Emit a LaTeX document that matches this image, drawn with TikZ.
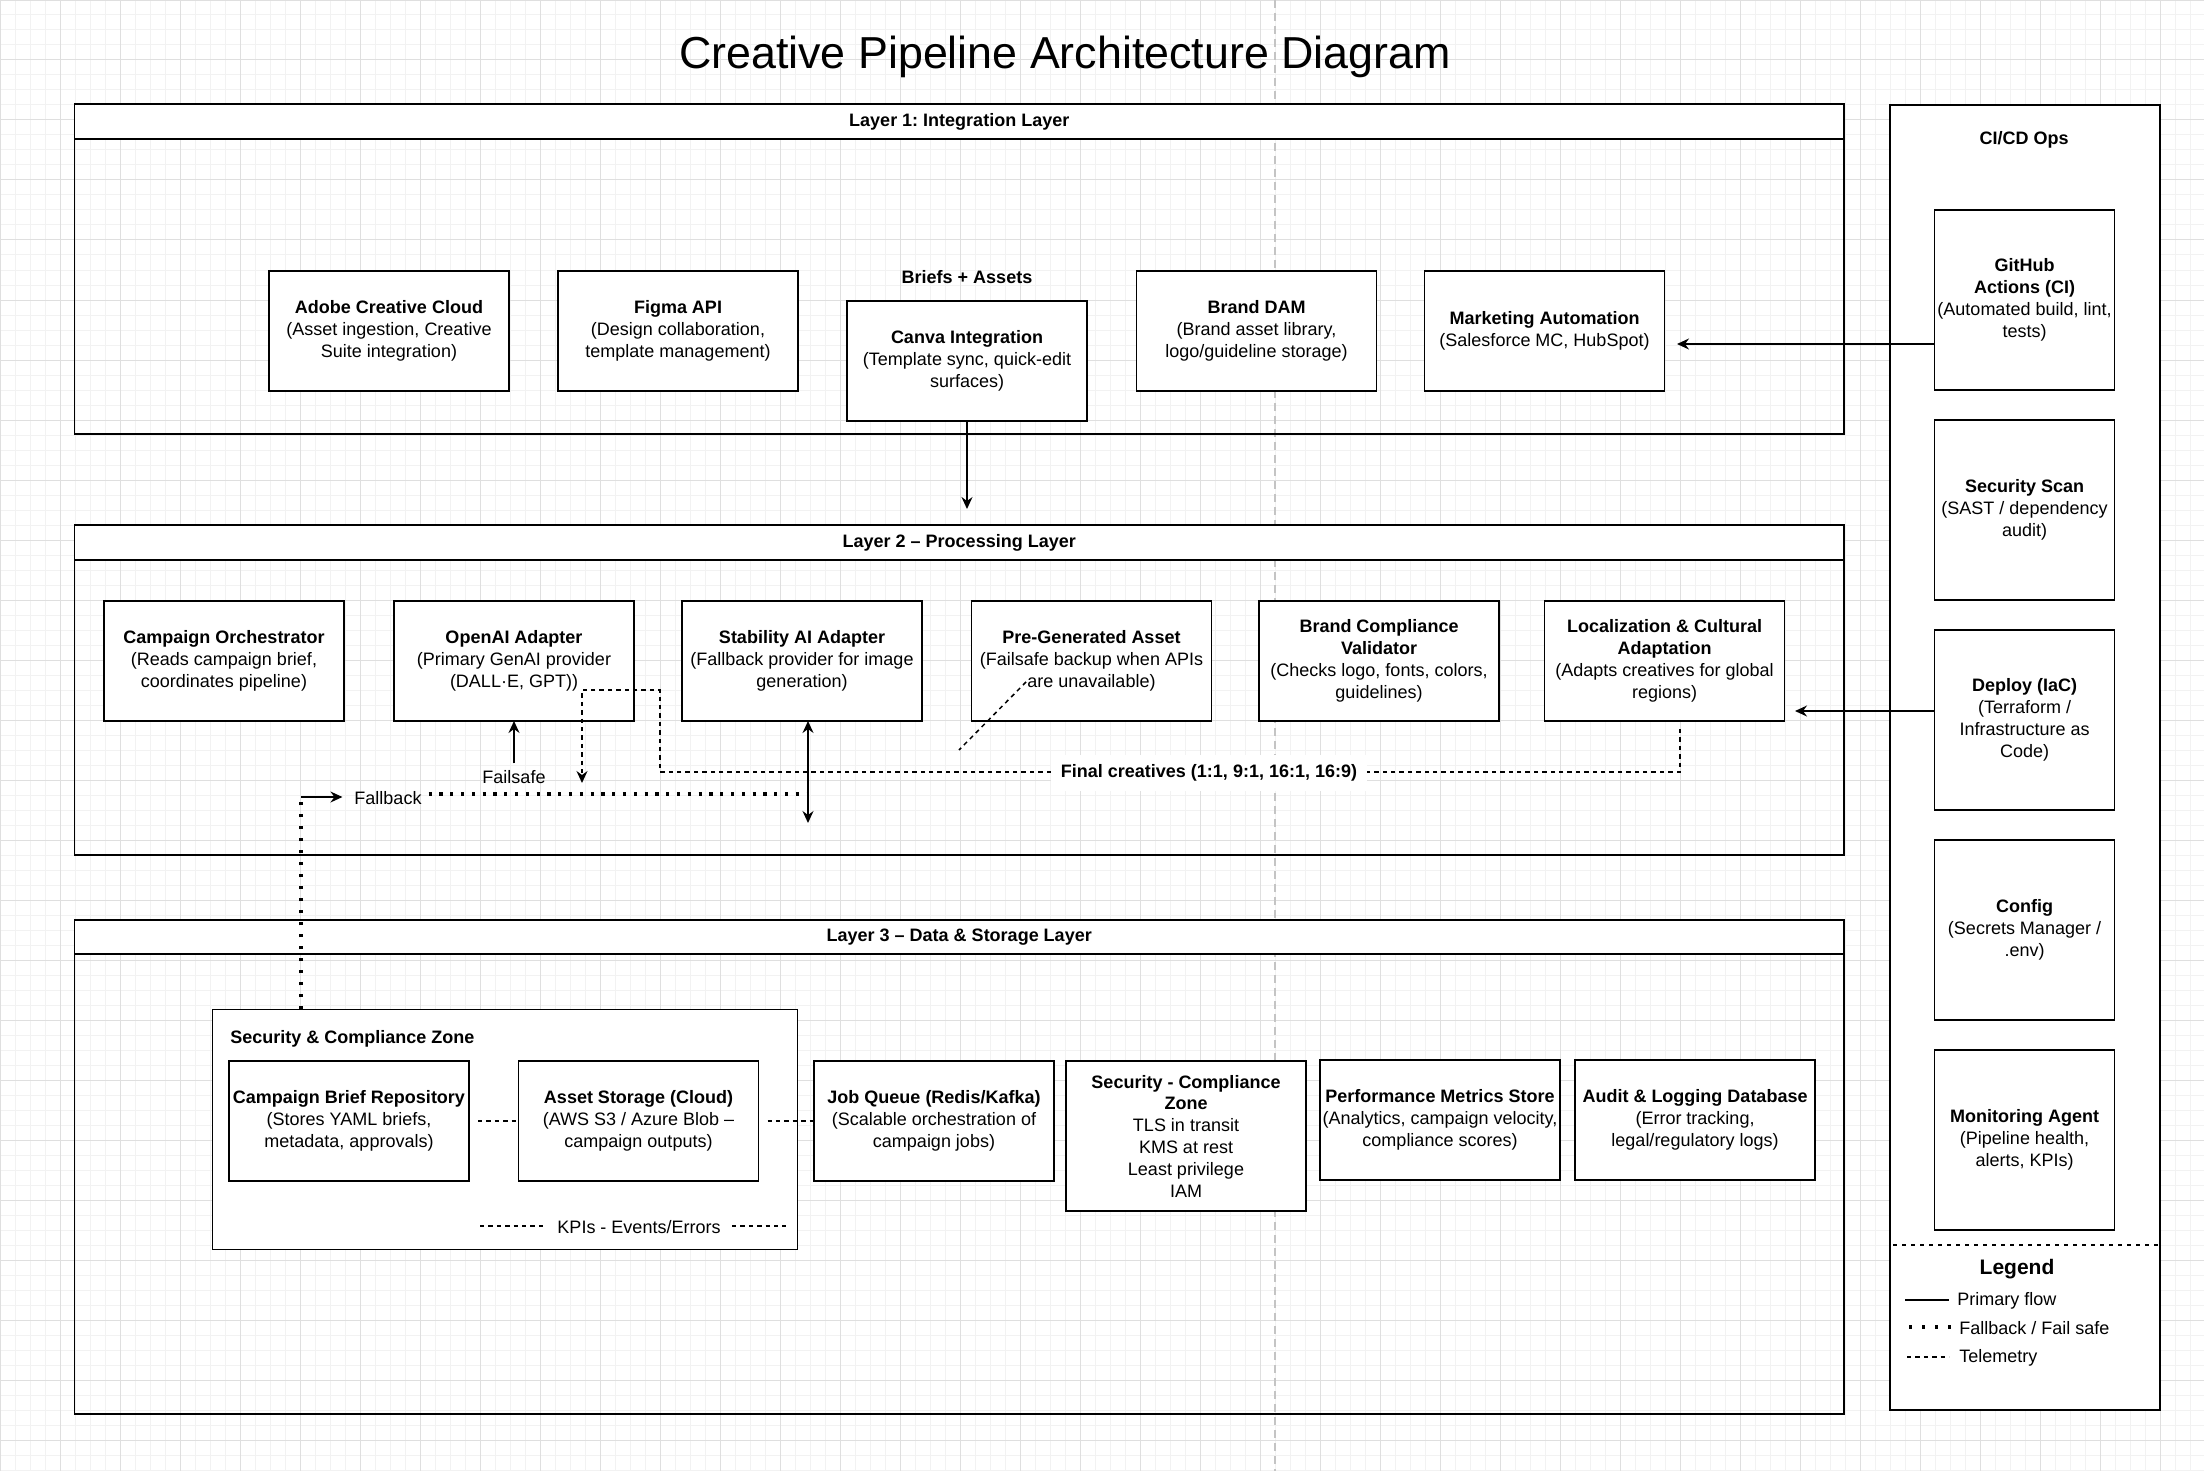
\documentclass[tikz,border=0pt]{standalone}
\usepackage{fontspec}
\setmainfont{Liberation Sans}
\usetikzlibrary{arrows.meta}
\frenchspacing

\definecolor{gridmajor}{HTML}{DFDFDF}
\definecolor{gridminor}{HTML}{F2F2F2}
\definecolor{pagebreak}{HTML}{C4C4C4}

\tikzset{
  box/.style={draw, fill=white, line width=0.75pt, align=center, outer sep=0pt,
    inner sep=0.5pt, minimum width=120pt, minimum height=60pt},
  opsbox/.style={box, minimum width=90pt, minimum height=90pt},
  layer/.style={draw, line width=0.75pt, outer sep=0pt, minimum width=884.75pt},
  layerhead/.style={layer, fill=white},
  flow/.style={line width=0.75pt, -{Stealth[length=6pt,width=5.5pt,inset=2pt]}},
  fallback/.style={line width=1.6pt, dash pattern=on 1.6pt off 3.8pt},
  telemetry/.style={line width=0.75pt, dash pattern=on 2.2pt off 2pt},
  lbl/.style={inner sep=0pt},
}

\begin{document}
\begin{tikzpicture}[x=0.5pt, y=-0.5pt, font=\fontsize{9}{10.9}\selectfont]
\useasboundingbox (0,0) rectangle (2204,1471);

% canvas grid and page break
\draw[gridminor, line width=0.5pt, step=7.5pt] (0,0) grid (2204,1471);
\draw[gridmajor, line width=0.5pt, step=30pt] (0,0) grid (2204,1471);
\draw[pagebreak, line width=0.6pt, dash pattern=on 4pt off 2.5pt] (1275,0) -- (1275,1471);

\node (title) at (1065,57) {\fontsize{22.4}{26}\selectfont Creative Pipeline Architecture Diagram};

% layers
\node[layer, minimum height=165pt] (lay1) at (959.25,269) {};
\node[layerhead, minimum height=17.5pt] (lay1h) at (959.25,121.5) {\textbf{Layer 1: Integration Layer}};
\node[layer, minimum height=165pt] (lay2) at (959.25,690) {};
\node[layerhead, minimum height=17.5pt] (lay2h) at (959.25,542.5) {\textbf{Layer 2 – Processing Layer}};
\node[layer, minimum height=247pt] (lay3) at (959.25,1167) {};
\node[layerhead, minimum height=17pt] (lay3h) at (959.25,937) {\textbf{Layer 3 – Data \& Storage Layer}};

% layer 1
\node[box] (adobe) at (389,331) {\textbf{Adobe Creative Cloud}\\(Asset ingestion, Creative\\Suite integration)};
\node[box] (figma) at (678,331) {\textbf{Figma API}\\(Design collaboration,\\template management)};
\node[box] (canva) at (967,361) {\textbf{Canva Integration}\\(Template sync, quick-edit\\surfaces)};
\node (briefs) at (967,277) {\textbf{Briefs + Assets}};
\node[box] (dam) at (1256.5,331) {\textbf{Brand DAM}\\(Brand asset library,\\logo/guideline storage)};
\node[box] (mkt) at (1544.5,331) {\textbf{Marketing Automation}\\(Salesforce MC, HubSpot)};

% layer 2
\node[box] (orch) at (224,661) {\textbf{Campaign Orchestrator}\\(Reads campaign brief,\\coordinates pipeline)};
\node[box] (openai) at (514,661) {\textbf{OpenAI Adapter}\\(Primary GenAI provider\\(DALL·E, GPT))};
\node[box] (stability) at (802,661) {\textbf{Stability AI Adapter}\\(Fallback provider for image\\generation)};
\node[box] (pregen) at (1091.5,661) {\textbf{Pre-Generated Asset}\\(Failsafe backup when APIs\\are unavailable)};
\node[box] (brandval) at (1379,661) {\textbf{Brand Compliance}\\\textbf{Validator}\\(Checks logo, fonts, colors,\\guidelines)};
\node[box] (local) at (1664.5,661) {\textbf{Localization \& Cultural}\\\textbf{Adaptation}\\(Adapts creatives for global\\regions)};

% layer 3
\node[box, minimum width=292.5pt, minimum height=120pt] (zone) at (505,1129.3) {};
\node[lbl, anchor=west] (zonelbl) at (230,1039) {\textbf{Security \& Compliance Zone}};
\node[box] (briefrepo) at (349,1121) {\textbf{Campaign Brief Repository}\\(Stores YAML briefs,\\metadata, approvals)};
\node[box] (storage) at (638.5,1121) {\textbf{Asset Storage (Cloud)}\\(AWS S3 / Azure Blob –\\campaign outputs)};
\node[box] (queue) at (934,1121) {\textbf{Job Queue (Redis/Kafka)}\\(Scalable orchestration of\\campaign jobs)};
\node[box, minimum height=75pt] (seczone) at (1186,1136) {\textbf{Security - Compliance}\\\textbf{Zone}\\TLS in transit\\KMS at rest\\Least privilege\\IAM};
\node[box] (metrics) at (1440,1120) {\textbf{Performance Metrics Store}\\(Analytics, campaign velocity,\\compliance scores)};
\node[box] (audit) at (1695,1120) {\textbf{Audit \& Logging Database}\\(Error tracking,\\legal/regulatory logs)};

% ci/cd column
\node[draw, fill=white, line width=0.75pt, minimum width=135pt, minimum height=652.5pt] (cicd) at (2025,757.5) {};
\node (cicdlbl) at (2024,140) {\textbf{CI/CD Ops}};
\node[opsbox] (github) at (2024.5,300) {\textbf{GitHub}\\\textbf{Actions (CI)}\\(Automated build, lint,\\tests)};
\node[opsbox] (secscan) at (2024.5,510) {\textbf{Security Scan}\\(SAST / dependency\\audit)};
\node[opsbox] (deploy) at (2024.5,720) {\textbf{Deploy (IaC)}\\(Terraform /\\Infrastructure as\\Code)};
\node[opsbox] (config) at (2024.5,930) {\textbf{Config}\\(Secrets Manager /\\.env)};
\node[opsbox] (monitor) at (2024.5,1140) {\textbf{Monitoring Agent}\\(Pipeline health,\\alerts, KPIs)};

% legend
\draw[telemetry, dash pattern=on 2pt off 2.5pt] (1893,1245) -- (2158,1245);
\node[font=\fontsize{10.5}{12}\selectfont\bfseries] (legend) at (2017,1269) {Legend};
\draw[line width=0.75pt] (1905,1300) -- (1949,1300);
\node[lbl, anchor=west] (lgflow) at (1957,1301) {Primary flow};
\draw[line width=1.6pt, dash pattern=on 1.6pt off 4.9pt] (1909,1327) -- (1951,1327);
\node[lbl, anchor=west] (lgfall) at (1959,1328) {Fallback / Fail safe};
\draw[telemetry] (1907,1357) -- (1949,1357);
\node[lbl, anchor=west] (lgtele) at (1959,1358) {Telemetry};

% connectors
\coordinate (lay2in) at (967,509);
\draw[flow] (canva) -- (lay2in);
\coordinate (mktin) at (1677,344);
\draw[flow] (github.west |- mktin) -- (mktin);
\coordinate (localin) at (1795,711);
\draw[flow] (deploy.west |- localin) -- (localin);

\node (failsafe) at (514,777) {Failsafe};
\draw[flow] (failsafe) -- (openai);

\coordinate (stabend) at (808,823);
\draw[line width=0.75pt, {Stealth[length=6pt,width=5.5pt,inset=2pt]}-{Stealth[length=6pt,width=5.5pt,inset=2pt]}] (stability.south -| stabend) -- (stabend);

\coordinate (finalstart) at (1680,729);
\coordinate (finalbend) at (660,772);
\coordinate (openaiout) at (582,690);
\coordinate (openaiend) at (582,783);
\draw[telemetry, -{Stealth[length=6pt,width=5.5pt,inset=2pt]}] (finalstart) |- (finalbend) |- (openaiout) -- (openaiend);
\node[fill=white, inner sep=5pt] (finallbl) at (1209,773) {\textbf{Final creatives (1:1, 9:1, 16:1, 16:9)}};

\coordinate (pregentail) at (959,750);
\draw[telemetry] (1026,682) -- (pregentail);

\coordinate (fbk) at (301,797);
\draw[fallback, dash pattern=on 1.6pt off 4.4pt] (zone.north -| fbk) -- (fbk);
\node (fbklbl) at (388,798) {Fallback};
\draw[flow, shorten >=2.5pt] (fbk) -- (fbk -| fbklbl.west);
\draw[fallback] ([yshift=2pt]fbklbl.east) -- ([yshift=2pt]fbklbl.east -| stabend);

\draw[telemetry] (briefrepo.east) ++(4.5pt,0) -- (storage.west);
\draw[telemetry] (storage.east) ++(4.5pt,0) -- (queue.west);
\draw[telemetry] (480,1226) -- (786,1226);
\node[fill=white, inner sep=5pt] (kpilbl) at (639,1227) {KPIs - Events/Errors};
\end{tikzpicture}
\end{document}
